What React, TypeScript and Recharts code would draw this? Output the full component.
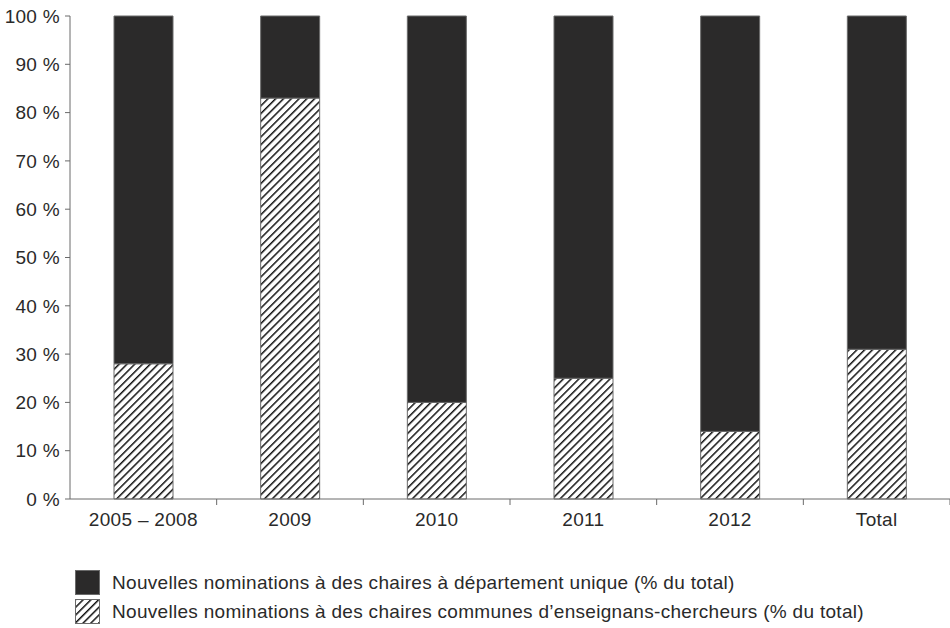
import React from "react";
import { BarChart, Bar, XAxis, YAxis } from "recharts";

const categories = ["2005 – 2008", "2009", "2010", "2011", "2012", "Total"];
const communes = [28, 83, 20, 25, 14, 31];
const unique = [72, 17, 80, 75, 86, 69];
const yTicks = [0, 10, 20, 30, 40, 50, 60, 70, 80, 90, 100];

const LABEL_UNIQUE = "Nouvelles nominations à des chaires à département unique (% du total)";
const LABEL_COMMUNES = "Nouvelles nominations à des chaires communes d’enseignans-chercheurs (% du total)";

const DARK = "#2b2a2a";
const EDGE = "#6a6a6a";
const TEXT = "#2a2a2a";
const FONT = "'Liberation Sans', Arial, sans-serif";
const FS = 19;
const LS = 0.3;
const X_TICK_SIZE = 6;
const X_TICK_MARGIN = 8;

const data = categories.map((name, i) => ({
  name,
  communes: communes[i],
  unique: unique[i],
}));

// category label plus a small tick on the right boundary of each band
function CatTick(props: any) {
  const { x, y, payload } = props;
  const half = payload && payload.offset ? payload.offset : 0;
  const axisY = y - X_TICK_SIZE - X_TICK_MARGIN;
  return (
    <g>
      <line x1={x + half} x2={x + half} y1={axisY} y2={axisY + 6} stroke={EDGE} />
      <text
        x={x}
        y={y}
        dy="0.71em"
        textAnchor="middle"
        fill={TEXT}
        fontSize={FS}
        fontFamily={FONT}
        letterSpacing={LS}
      >
        {payload.value}
      </text>
    </g>
  );
}

function HatchSwatch() {
  return (
    <svg width={25} height={25} style={{ display: "block" }}>
      <defs>
        <pattern id="hatchLegend" patternUnits="userSpaceOnUse" width={5.5} height={5.5} patternTransform="rotate(45)">
          <line x1={0} y1={0} x2={0} y2={5.5} stroke="#111" strokeWidth={3} />
        </pattern>
      </defs>
      <rect x={0.5} y={0.5} width={24} height={24} fill="url(#hatchLegend)" stroke={EDGE} />
    </svg>
  );
}

function LegendBox() {
  const row: React.CSSProperties = { display: "flex", alignItems: "center", height: 29 };
  const txt: React.CSSProperties = { marginLeft: 12, fontSize: FS, letterSpacing: LS, color: TEXT, fontFamily: FONT };
  return (
    <div style={{ position: "absolute", left: 75, top: 568 }}>
      <div style={row}>
        <div style={{ width: 25, height: 25, background: DARK, border: `1px solid ${EDGE}`, boxSizing: "border-box" }} />
        <span style={txt}>{LABEL_UNIQUE}</span>
      </div>
      <div style={row}>
        <HatchSwatch />
        <span style={txt}>{LABEL_COMMUNES}</span>
      </div>
    </div>
  );
}

export default function App() {
  const tickStyle = { fill: TEXT, fontSize: FS, fontFamily: FONT, letterSpacing: LS };
  return (
    <div style={{ position: "absolute", left: 0, top: 0, width: 950, height: 628, background: "#fff" }}>
      <BarChart
        width={950}
        height={628}
        data={data}
        margin={{ top: 16, right: 0, left: 0, bottom: 89 }}
        barSize={59}
      >
        <defs>
          <pattern id="hatch" patternUnits="userSpaceOnUse" width={5.5} height={5.5} patternTransform="rotate(45)">
            <line x1={0} y1={0} x2={0} y2={5.5} stroke="#111" strokeWidth={3} />
          </pattern>
        </defs>
        <XAxis
          dataKey="name"
          axisLine={{ stroke: EDGE }}
          tickLine={false}
          tickSize={X_TICK_SIZE}
          tickMargin={X_TICK_MARGIN}
          tick={<CatTick />}
          interval={0}
          height={40}
        />
        <YAxis
          domain={[0, 100]}
          ticks={yTicks}
          interval={0}
          width={70}
          axisLine={{ stroke: EDGE }}
          tickLine={{ stroke: EDGE }}
          tickSize={5}
          tickMargin={5}
          tickFormatter={(v) => `${v} %`}
          tick={tickStyle}
        />
        <Bar
          dataKey="communes"
          name={LABEL_COMMUNES}
          stackId="s"
          fill="url(#hatch)"
          stroke={EDGE}
          strokeWidth={1}
          isAnimationActive={false}
        />
        <Bar
          dataKey="unique"
          name={LABEL_UNIQUE}
          stackId="s"
          fill={DARK}
          stroke={EDGE}
          strokeWidth={1}
          isAnimationActive={false}
        />
      </BarChart>
      <LegendBox />
    </div>
  );
}
